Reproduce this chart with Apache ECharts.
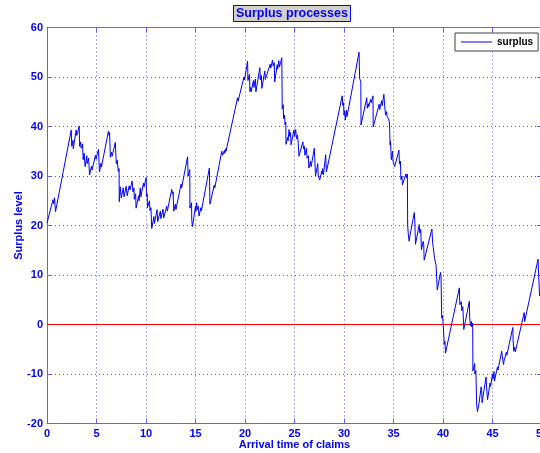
<!DOCTYPE html>
<html>
<head>
<meta charset="utf-8">
<script src="https://cdn.jsdelivr.net/npm/echarts@6/dist/echarts.min.js"></script>
<style>
  html, body { margin: 0; padding: 0; background: #ffffff; }
  #chart { width: 540px; height: 453px; }
</style>
</head>
<body>
<div id="chart"></div>
<script>
// Surplus process path: premium income rises linearly, claims cause vertical drops.
// Each drop is stored as two vertices sharing (almost) the same time.
var arrivalTime = [
  0, 0.6, 0.68, 0.76, 0.86, 2.45, 2.5, 2.62, 2.65, 2.95, 3.0, 3.1, 3.25, 3.3, 3.4, 3.45, 3.6, 3.65, 3.75, 3.85,
  4.02, 4.05, 4.2, 4.3, 4.5, 4.55, 4.9, 4.95, 5.2, 5.3, 5.45, 5.5, 6.2, 6.28, 6.32, 6.4, 6.52, 6.58, 6.9, 7.0,
  7.1, 7.2, 7.28, 7.3, 7.4, 7.5, 7.7, 7.78, 8.0, 8.1, 8.3, 8.38, 8.6, 8.68, 8.78, 8.82, 8.95, 9.0, 9.25, 9.3,
  9.42, 9.48, 9.75, 9.8, 10.02, 10.05, 10.12, 10.15, 10.35, 10.4, 10.5, 10.58, 10.8, 10.85, 11.12, 11.18, 11.45, 11.5, 11.72, 11.78,
  12.09, 12.15, 12.6, 12.68, 12.74, 12.8, 12.97, 13.02, 13.55, 13.6, 14.2, 14.25, 14.42, 14.44, 14.6, 14.62, 14.68, 14.7, 15.0, 15.05,
  15.12, 15.17, 15.3, 15.35, 15.55, 15.6, 16.4, 16.46, 16.9, 16.95, 17.65, 17.75, 17.92, 17.95, 18.05, 18.08, 19.25, 19.3, 19.9, 19.95,
  20.26, 20.3, 20.45, 20.5, 20.58, 20.62, 20.85, 20.9, 21.05, 21.1, 21.5, 21.55, 21.65, 21.7, 22.0, 22.05, 22.55, 22.6, 22.78, 22.85,
  22.95, 23.0, 23.25, 23.3, 23.42, 23.48, 23.72, 23.76, 23.86, 23.9, 24.0, 24.05, 24.12, 24.14, 24.3, 24.35, 24.45, 24.52, 24.6, 24.65,
  24.95, 25.0, 25.12, 25.2, 25.3, 25.38, 25.45, 25.85, 25.9, 26.0, 26.05, 26.2, 26.27, 26.4, 26.45, 26.62, 26.68, 27.0, 27.05, 27.12,
  27.35, 27.4, 27.55, 27.75, 27.8, 27.85, 27.92, 28.15, 28.22, 29.82, 29.88, 29.95, 30.0, 30.08, 30.13, 30.25, 30.3, 30.35, 31.52, 31.55,
  31.58, 31.65, 31.7, 31.72, 32.3, 32.35, 32.45, 32.5, 32.7, 32.75, 32.93, 32.95, 33.55, 33.6, 33.8, 33.85, 34.03, 34.1, 34.2, 34.3,
  34.35, 34.52, 34.6, 34.65, 34.7, 34.78, 34.9, 34.95, 35.12, 35.55, 35.6, 35.7, 35.75, 35.85, 35.9, 36.25, 36.3, 36.4, 36.43, 36.5,
  36.58, 36.62, 37.1, 37.15, 37.22, 37.6, 37.65, 37.75, 37.82, 38.0, 38.05, 38.1, 38.88, 38.95, 39.02, 39.1, 39.15, 39.25, 39.3, 39.38,
  39.42, 39.75, 39.8, 39.85, 39.87, 39.95, 40.0, 40.05, 40.08, 40.12, 40.2, 40.25, 41.65, 41.7, 41.85, 41.9, 42.0, 42.1, 42.66, 42.7,
  42.75, 42.78, 42.88, 42.9, 43.0, 43.02, 43.2, 43.22, 43.32, 43.35, 43.38, 43.4, 43.45, 43.48, 43.65, 43.85, 43.9, 43.95, 44.35, 44.4,
  44.5, 44.75, 44.8, 45.0, 45.05, 45.15, 45.2, 45.5, 45.55, 45.93, 46.0, 46.12, 46.15, 46.4, 46.45, 47.05, 47.08, 47.15, 47.25, 47.3,
  47.5, 47.52, 48.2, 48.25, 49.6, 49.72, 49.75, 50
];
var surplusLevel = [
  20.5, 25.2, 24.4, 25.6, 22.8, 39.3, 36.0, 37.2, 35.5, 39.3, 38.2, 38.8, 40.1, 36.0, 36.9, 35.6, 36.5, 33.3, 34.6, 31.9,
  34.1, 32.5, 33.6, 30.2, 32.0, 31.2, 34.2, 33.4, 35.4, 30.8, 32.6, 31.8, 39.0, 38.2, 38.8, 33.8, 34.8, 34.0, 36.8, 32.5,
  33.2, 30.9, 31.5, 24.8, 27.8, 25.6, 27.6, 25.8, 27.9, 26.0, 28.0, 27.2, 29.0, 26.8, 27.6, 25.3, 26.4, 23.5, 26.0, 25.0,
  27.6, 25.8, 28.6, 27.8, 29.7, 25.9, 26.4, 23.6, 25.0, 23.0, 23.6, 19.4, 21.8, 20.4, 23.2, 20.8, 22.9, 21.4, 23.3, 21.5,
  23.9, 22.9, 27.3, 26.3, 26.8, 22.9, 24.3, 23.2, 28.4, 27.6, 33.9, 30.0, 31.3, 23.5, 24.6, 21.2, 21.6, 19.8, 23.9, 22.9,
  24.6, 23.2, 23.9, 21.9, 23.6, 23.0, 31.6, 24.3, 28.2, 27.6, 35.0, 34.2, 35.2, 34.6, 35.5, 35.0, 45.8, 45.1, 50.0, 49.4,
  53.2, 49.3, 50.5, 47.1, 47.9, 47.0, 49.3, 47.9, 49.6, 47.0, 51.9, 49.4, 50.3, 47.7, 51.2, 49.5, 52.6, 51.8, 53.4, 52.2,
  52.9, 49.0, 52.5, 51.6, 53.3, 52.0, 53.9, 43.5, 44.4, 41.6, 42.3, 40.3, 40.9, 36.4, 37.8, 37.1, 39.4, 38.0, 38.8, 36.3,
  39.3, 38.0, 39.4, 37.5, 38.3, 36.6, 34.0, 36.9, 35.5, 36.0, 34.2, 35.6, 33.6, 34.1, 31.6, 33.0, 31.9, 35.6, 33.5, 30.0,
  32.5, 30.0, 29.2, 31.0, 30.4, 31.5, 30.2, 34.3, 30.8, 46.2, 44.3, 44.8, 42.3, 43.2, 41.3, 43.3, 42.0, 42.5, 55.0, 52.2,
  49.7, 49.5, 49.0, 40.3, 45.8, 43.7, 44.6, 44.0, 45.5, 44.8, 46.2, 39.9, 44.5, 43.4, 45.2, 44.2, 46.5, 44.3, 42.3, 43.0,
  42.0, 41.5, 40.5, 36.3, 37.0, 33.3, 35.0, 33.0, 31.9, 35.2, 32.4, 33.0, 29.3, 30.0, 28.2, 30.4, 29.6, 30.4, 20.1, 18.1,
  16.8, 17.5, 22.6, 21.0, 16.2, 20.2, 18.5, 19.2, 15.1, 16.8, 16.2, 13.0, 19.3, 16.5, 15.5, 15.2, 13.3, 13.6, 12.0, 12.3,
  7.0, 10.5, 9.8, 10.2, 1.3, 1.8, 0.5, 0.8, -2.1, -4.0, -3.4, -5.8, 7.4, 4.0, 4.6, 2.8, 3.6, -1.0, 4.7, 1.3,
  1.6, -0.3, 0.6, -0.5, 0.3, -9.4, -7.9, -10.0, -9.3, -11.8, -11.5, -16.2, -15.8, -17.6, -15.8, -12.6, -13.2, -15.8, -10.6, -12.6,
  -15.2, -11.8, -12.5, -10.1, -11.0, -9.5, -11.4, -8.6, -9.2, -5.4, -6.5, -8.1, -7.5, -5.6, -6.2, -0.6, -3.0, -5.4, -4.6, -5.5,
  -3.8, -4.2, 2.4, 0.6, 13.2, 13.3, 5.8, 8.0
];

// Axis ranges and tick spacing
var xRange = [0, 50], xStep = 5;
var yRange = [-20, 60], yStep = 10;
// Ruin threshold drawn as a horizontal reference line
var ruinLevel = 0;

var pathData = arrivalTime.map(function (t, i) { return [t, surplusLevel[i]]; });
var ruinData = [[xRange[0], ruinLevel], [xRange[1], ruinLevel]];

var blue = '#0000ff';
var axisBlue = '#6161ff';
var fontFam = '"Liberation Sans", Arial, Helvetica, sans-serif';

function xAxisDef(pos, labels) {
  return {
    type: 'value', position: pos, min: xRange[0], max: xRange[1], interval: xStep,
    name: labels ? 'Arrival time of claims' : '', nameLocation: 'middle', nameGap: 16,
    nameMoveOverlap: false,
    nameTextStyle: { color: blue, fontWeight: 'bold', fontSize: 11, fontFamily: fontFam },
    axisLine: { show: true, onZero: false, lineStyle: { color: axisBlue, width: 1 } },
    axisTick: { show: true, inside: true, length: 5, lineStyle: { color: axisBlue } },
    axisLabel: { show: labels, color: blue, fontWeight: 'bold', fontSize: 11, fontFamily: fontFam, margin: 5 },
    splitLine: { show: labels, lineStyle: { color: '#5050ff', width: 1, type: [1, 3] } }
  };
}
function yAxisDef(pos, labels) {
  return {
    type: 'value', position: pos, min: yRange[0], max: yRange[1], interval: yStep,
    name: labels ? 'Surplus level' : '', nameLocation: 'middle', nameGap: 23,
    nameMoveOverlap: false,
    nameTextStyle: { color: blue, fontWeight: 'bold', fontSize: 11, fontFamily: fontFam },
    axisLine: { show: true, onZero: false, lineStyle: { color: axisBlue, width: 1 } },
    axisTick: { show: true, inside: true, length: 5, lineStyle: { color: axisBlue } },
    axisLabel: { show: labels, color: blue, fontWeight: 'bold', fontSize: 11, fontFamily: fontFam, margin: 4 },
    splitLine: { show: labels, lineStyle: { color: '#5050ff', width: 1, type: [1, 3] } }
  };
}

var chart = echarts.init(document.getElementById('chart'), null, { renderer: 'canvas' });
chart.setOption({
  animation: false,
  backgroundColor: '#ffffff',
  title: {
    text: 'Surplus processes',
    left: 233, top: 5,
    padding: [2, 3],
    backgroundColor: '#d4d0c8',
    borderColor: blue, borderWidth: 1,
    textStyle: { color: blue, fontWeight: 'bold', fontSize: 12.5, fontFamily: fontFam }
  },
  legend: {
    data: [{ name: 'surplus', icon: 'rect' }],
    left: 455, top: 33,
    padding: [4, 5, 4, 6],
    itemWidth: 31, itemHeight: 1,
    backgroundColor: '#ffffff',
    borderColor: '#404040', borderWidth: 1, borderRadius: 0,
    textStyle: { color: '#000000', fontWeight: 'bold', fontSize: 10, fontFamily: fontFam }
  },
  grid: { left: 47, top: 27.5, width: 495, height: 396, containLabel: false, outerBoundsMode: 'none' },
  xAxis: [xAxisDef('bottom', true), xAxisDef('top', false)],
  yAxis: [yAxisDef('left', true), yAxisDef('right', false)],
  series: [{
    name: 'ruin',
    type: 'line',
    data: ruinData,
    symbol: 'none',
    silent: true,
    lineStyle: { color: '#ff0000', width: 1 },
    itemStyle: { color: '#ff0000' }
  }, {
    name: 'surplus',
    type: 'line',
    data: pathData,
    symbol: 'none',
    lineStyle: { color: blue, width: 1 },
    itemStyle: { color: blue }
  }]
});
</script>
</body>
</html>
